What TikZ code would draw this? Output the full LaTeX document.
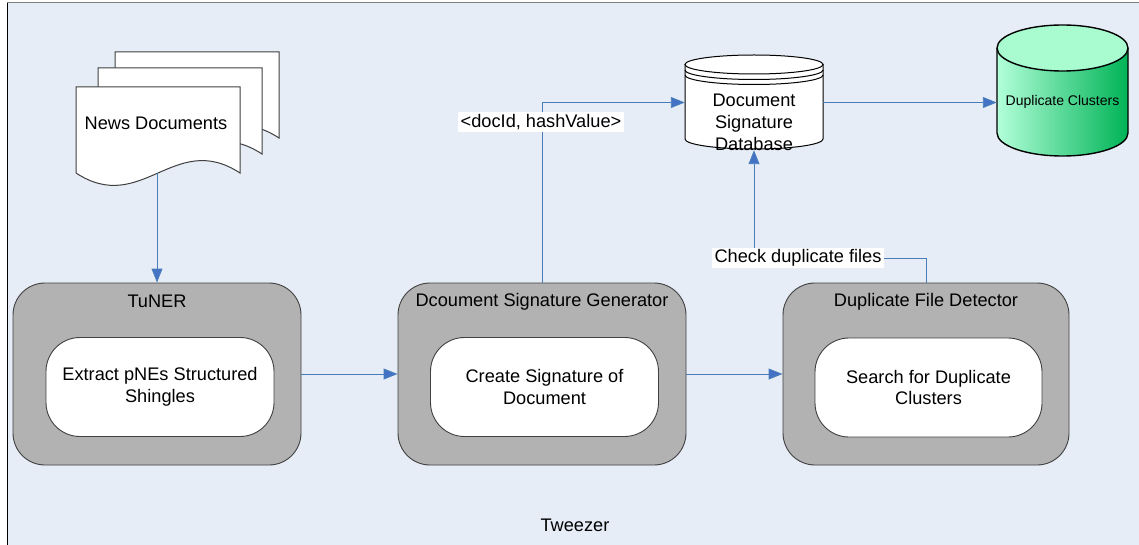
\documentclass[tikz,border=0pt]{standalone}
\usepackage{fontspec}
\setmainfont{Liberation Sans}
\usetikzlibrary{arrows.meta}
\definecolor{bgc}{HTML}{E6EDF7}
\definecolor{boxgray}{HTML}{B2B2B2}
\definecolor{edgegray}{HTML}{404040}
\definecolor{flowblue}{HTML}{4A7EBB}
\definecolor{tipblue}{HTML}{4472C4}
\definecolor{greenlight}{HTML}{B2FFD9}
\definecolor{greendark}{HTML}{00B356}
\definecolor{greentop}{HTML}{A9FCD0}
\tikzset{
  txt/.style={font=\fontsize{18.2}{21.5}\selectfont, align=center, inner sep=0pt},
  outerbox/.style={draw=edgegray, fill=boxgray, line width=0.9pt, rounded corners=32pt, minimum width=288pt, minimum height=182pt},
  innerbox/.style={draw=edgegray, fill=white, line width=0.9pt, rounded corners=34pt, minimum width=228pt, minimum height=99pt, font=\fontsize{18.2}{21.5}\selectfont, align=center},
  flow/.style={draw=flowblue, line width=0.9pt, -{Triangle[length=14pt,width=11pt,fill=tipblue]}},
  tag/.style={fill=white, font=\fontsize{18.2}{21.5}\selectfont, inner xsep=2.5pt, inner ysep=2pt},
  docline/.style={draw=edgegray, fill=white, line width=1pt},
  docpage/.pic={\path[docline] (0,0) -- (164,0) -- (164,-86) .. controls (98.4,-43) and (65.6,-129) .. (0,-86) -- cycle;}
}
\begin{document}
\begin{tikzpicture}[x=1pt,y=1pt]
\useasboundingbox (0,0) rectangle (1139,-545);
% frame
\fill[bgc] (7,-2) rectangle (1139,-545);
\draw[black, line width=1.3pt] (7.5,-2) -- (7.5,-545);
\draw[gray, line width=1pt] (7,-2.5) -- (1139,-2.5);

% news documents
\pic at (115,-52) {docpage};
\pic at (98,-68) {docpage};
\pic at (76,-87) {docpage};
\node[txt] (news) at (156,-123) {News Documents};
\coordinate (newsbot) at (157,-173);

% document signature database cylinder
\path[draw=black, fill=white, line width=1pt] (685,-64.5) -- (685,-139) arc[start angle=180, end angle=360, x radius=69, y radius=10] -- (823,-64.5) -- cycle;
\draw[black, line width=1pt, fill=white] (754,-64.5) ellipse[x radius=69, y radius=9.5];
\draw[black, line width=1pt] (685,-70) arc[start angle=180, end angle=360, x radius=69, y radius=9.5];
\draw[black, line width=1pt] (685,-75) arc[start angle=180, end angle=360, x radius=69, y radius=9.5];
\node[inner sep=0pt, minimum width=138pt, minimum height=95pt] (db) at (754,-102.5) {};
\node[txt, font=\fontsize{18.2}{22}\selectfont] (dbtext) at (754,-122) {Document\\Signature\\Database};

% duplicate clusters cylinder
\shade[left color=greenlight, right color=greendark] (997,-48) -- (997,-133) arc[start angle=180, end angle=360, x radius=65.5, y radius=23] -- (1128,-48) -- cycle;
\draw[black, line width=1.4pt] (997,-48) -- (997,-133) arc[start angle=180, end angle=360, x radius=65.5, y radius=23] -- (1128,-48);
\draw[black, line width=1.4pt, fill=greentop] (1062.5,-48) ellipse[x radius=65.5, y radius=23];
\node[inner sep=0pt, minimum width=131pt, minimum height=132pt] (dc) at (1062.5,-91) {};
\node[txt, font=\fontsize{14}{16}\selectfont] (dctext) at (1062.5,-102) {Duplicate Clusters};

% component boxes
\node[outerbox] (tuner) at (157,-374) {};
\node[txt] (tunertitle) at (157,-301) {TuNER};
\node[innerbox] (extract) at (160,-387) {Extract pNEs Structured\\Shingles};

\node[outerbox] (dsg) at (542,-374) {};
\node[txt] (dsgtitle) at (542,-302) {Dcoument Signature Generator};
\node[innerbox] (create) at (544.5,-387) {Create Signature of\\Document};

\node[outerbox, minimum width=286pt] (dfd) at (926,-374) {};
\node[txt] (dfdtitle) at (926,-302) {Duplicate File Detector};
\node[innerbox, minimum width=227pt] (search) at (928.5,-387.5) {Search for Duplicate\\Clusters};

\node[txt] (tweezer) at (575,-525) {Tweezer};

% connectors
\draw[flow] (newsbot) -- (tuner.north);
\draw[flow] (tuner.east) -- (dsg.west);
\draw[flow] (dsg.east) -- (dfd.west);
\draw[flow] (dsg.north) |- (db.west);
\node[tag] (hashlabel) at (541,-122) {<docId, hashValue>};
\draw[flow] (db.east) -- (dc.west |- db.east);
\coordinate (bend) at (754,-258);
\draw[flow] (dfd.north) |- (bend) -- (db.south);
\node[tag] (checklabel) at (798,-258) {Check duplicate files};
\end{tikzpicture}
\end{document}
